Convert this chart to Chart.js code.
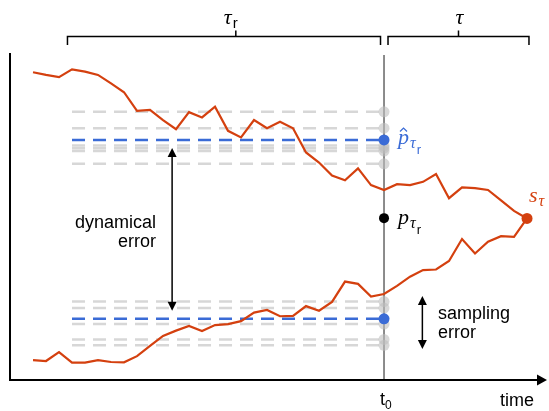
<!DOCTYPE html>
<html>
<head>
<meta charset="utf-8">
<script src="https://cdn.jsdelivr.net/npm/chart.js@4/dist/chart.umd.min.js"></script>
<style>
    html, body { margin: 0; padding: 0; background: #fff; overflow: hidden; }
    #wrap { width: 549px; height: 411px; }
    #diagram { display: block; }
</style>
</head>
<body>
<div id="wrap"><canvas id="diagram"></canvas></div>
<script>
// time steps 0..38, t0 is step 27, s_tau is the last step
const steps = Array.from({ length: 39 }, (_, i) => i);
const T0 = 27;
const SAMPLE_START = 3;

// two trajectories that meet at s_tau
const upperPath = [94.1, 93.3, 92.6, 95.0, 94.3, 93.3, 90.7, 88.0, 82.3, 82.6,
    79.5, 76.7, 81.9, 80.3, 83.6, 76.2, 74.2, 79.5, 77.0, 79.0,
    77.0, 69.6, 66.5, 62.5, 61.1, 64.7, 59.6, 58.1, 59.9, 59.6,
    60.6, 63.0, 55.6, 58.9, 58.7, 58.1, 54.9, 51.7, 49.4];
const lowerPath = [6.1, 5.8, 8.5, 5.3, 5.3, 6.1, 5.5, 5.4, 7.3, 10.4,
    13.5, 15.1, 16.5, 15.0, 16.8, 17.1, 18.0, 20.6, 21.4, 19.5,
    19.6, 22.6, 21.2, 23.9, 30.1, 29.4, 25.5, 26.3, 28.8, 31.6,
    33.6, 33.8, 36.4, 43.1, 38.7, 42.3, 44.0, 43.8, 49.4];

// sampled estimates over tau_r and their means
const upperSamples = [82.0, 77.0, 71.7, 70.9, 70.0, 66.1];
const upperMean = 73.4;
const lowerSamples = [24.0, 22.0, 17.1, 12.4, 10.6];
const lowerMean = 18.7;
const presentValue = 49.5;

const RED = '#d4400f';
const BLUE = '#3a6bd6';
const GREY = 'rgba(205, 205, 205, 0.8)';

function flatLine(v, color, order) {
    return {
        data: [{ x: SAMPLE_START, y: v }, { x: T0, y: v }],
        borderColor: color,
        borderWidth: 2.5,
        borderDash: [13, 8],
        pointRadius: 0,
        order: order
    };
}

const datasets = [];
upperSamples.concat(lowerSamples).forEach(v => datasets.push(flatLine(v, GREY, 20)));
datasets.push(flatLine(upperMean, BLUE, 15));
datasets.push(flatLine(lowerMean, BLUE, 15));
[upperPath, lowerPath].forEach(path => {
    datasets.push({
        data: steps.map(i => ({ x: i, y: path[i] })),
        borderColor: RED,
        borderWidth: 2.2,
        pointRadius: 0,
        order: 10
    });
});
// dots at t0 and at s_tau
datasets.push({
    data: upperSamples.concat(lowerSamples).map(v => ({ x: T0, y: v })),
    showLine: false,
    pointRadius: 5.5,
    pointBorderWidth: 0,
    pointBackgroundColor: 'rgba(190, 190, 190, 0.6)',
    order: 5
});
datasets.push({
    data: [{ x: T0, y: upperMean }, { x: T0, y: lowerMean }],
    showLine: false,
    pointRadius: 5.5,
    pointBorderWidth: 0,
    pointBackgroundColor: BLUE,
    order: 2
});
datasets.push({
    data: [{ x: T0, y: presentValue }],
    showLine: false,
    pointRadius: 5,
    pointBorderWidth: 0,
    pointBackgroundColor: '#000',
    order: 2
});
datasets.push({
    data: [{ x: steps[steps.length - 1], y: upperPath[upperPath.length - 1] }],
    showLine: false,
    pointRadius: 5.5,
    pointBorderWidth: 0,
    pointBackgroundColor: RED,
    order: 2
});

function arrowHead(ctx, x, y, dir) {
    ctx.beginPath();
    ctx.moveTo(x, y);
    ctx.lineTo(x - 4.5, y - dir * 9);
    ctx.lineTo(x + 4.5, y - dir * 9);
    ctx.closePath();
    ctx.fill();
}

function vArrow(ctx, x, y1, y2) {
    ctx.strokeStyle = '#000';
    ctx.fillStyle = '#000';
    ctx.lineWidth = 1.5;
    ctx.beginPath();
    ctx.moveTo(x, y1 + 6);
    ctx.lineTo(x, y2 - 6);
    ctx.stroke();
    arrowHead(ctx, x, y1, -1);
    arrowHead(ctx, x, y2, 1);
}

function brace(ctx, x1, x2, tick, y) {
    ctx.strokeStyle = '#000';
    ctx.lineWidth = 1.5;
    ctx.beginPath();
    ctx.moveTo(x1, y + 8.5);
    ctx.lineTo(x1, y);
    ctx.lineTo(x2, y);
    ctx.lineTo(x2, y + 8.5);
    ctx.moveTo(tick, y);
    ctx.lineTo(tick, y - 6);
    ctx.stroke();
}

// math label: list of [text, font, dy] pieces written left to right
function mathLabel(ctx, x, y, pieces, color) {
    ctx.fillStyle = color;
    ctx.textAlign = 'left';
    let cx = x;
    pieces.forEach(([txt, font, dy]) => {
        ctx.font = font;
        ctx.fillText(txt, cx, y + dy);
        cx += ctx.measureText(txt).width + 1;
    });
}

const MAIN = 'italic 22px "Liberation Serif"';
const SUB = 'italic 16px "Liberation Serif"';
const SUBSUB = '13px "Liberation Sans"';

const sketch = {
    id: 'sketch',
    beforeDatasetsDraw(chart) {
        const { ctx, chartArea: a, scales: { x } } = chart;
        const t0 = x.getPixelForValue(T0);
        ctx.save();
        ctx.strokeStyle = '#666';
        ctx.lineWidth = 1.5;
        ctx.beginPath();
        ctx.moveTo(t0, a.top + 2);
        ctx.lineTo(t0, a.bottom);
        ctx.stroke();
        ctx.restore();
    },
    afterDatasetsDraw(chart) {
        const { ctx, chartArea: a, scales: { x, y } } = chart;
        const t0 = x.getPixelForValue(T0);
        ctx.save();

        // axes
        ctx.strokeStyle = '#000';
        ctx.fillStyle = '#000';
        ctx.lineWidth = 2;
        ctx.beginPath();
        ctx.moveTo(a.left, a.top);
        ctx.lineTo(a.left, a.bottom);
        ctx.lineTo(a.right - 8, a.bottom);
        ctx.stroke();
        ctx.beginPath();
        ctx.moveTo(a.right + 1, a.bottom);
        ctx.lineTo(a.right - 9, a.bottom - 5.5);
        ctx.lineTo(a.right - 9, a.bottom + 5.5);
        ctx.closePath();
        ctx.fill();

        // braces for tau_r and tau
        const braceY = 36.5;
        const rLeft = x.getPixelForValue(2.65), tRight = x.getPixelForValue(38.15);
        const rTick = x.getPixelForValue(15.6);
        brace(ctx, rLeft, t0 - 3.5, rTick, braceY);
        brace(ctx, t0 + 4, tRight, (t0 + 4 + tRight) / 2, braceY);
        mathLabel(ctx, rTick - 12, 24, [['\u03C4', MAIN, 0], ['r', '15px "Liberation Sans"', 4]], '#000');
        ctx.font = MAIN;
        ctx.textAlign = 'center';
        ctx.fillText('\u03C4', (t0 + 4 + tRight) / 2 + 1, 24);

        // error arrows
        vArrow(ctx, x.getPixelForValue(10.7), y.getPixelForValue(upperMean) + 8, y.getPixelForValue(lowerMean) - 8);
        vArrow(ctx, x.getPixelForValue(29.95), y.getPixelForValue(25.7), y.getPixelForValue(9.5));

        ctx.fillStyle = '#000';
        ctx.font = '18px "Liberation Sans"';
        ctx.textAlign = 'right';
        ctx.fillText('dynamical', 156, 228);
        ctx.fillText('error', 156, 247);
        ctx.textAlign = 'left';
        ctx.fillText('sampling', 438, 319);
        ctx.fillText('error', 438, 338);

        // time axis labels
        ctx.fillText('t', t0 - 4, 405);
        ctx.font = '12px "Liberation Sans"';
        ctx.fillText('0', t0 + 1, 409);
        ctx.font = '18px "Liberation Sans"';
        ctx.textAlign = 'center';
        ctx.fillText('time', 517, 406);

        // estimate, present value and future state
        const pHat = y.getPixelForValue(upperMean);
        const pieces = [['p', MAIN, 0], ['\u03C4', SUB, 4], ['r', SUBSUB, 10]];
        mathLabel(ctx, t0 + 14, pHat + 4, pieces, BLUE);
        ctx.strokeStyle = BLUE;
        ctx.lineWidth = 1.2;
        ctx.beginPath();
        ctx.moveTo(t0 + 16, pHat - 8.5);
        ctx.lineTo(t0 + 19.5, pHat - 12);
        ctx.lineTo(t0 + 23, pHat - 8.5);
        ctx.stroke();
        mathLabel(ctx, t0 + 14, y.getPixelForValue(presentValue) + 6, pieces, '#000');
        const sx = x.getPixelForValue(steps[steps.length - 1]);
        const sy = y.getPixelForValue(upperPath[upperPath.length - 1]);
        mathLabel(ctx, sx + 2, sy - 16, [['s', MAIN, 0], ['\u03C4', SUB, 4]], RED);

        ctx.restore();
    }
};

new Chart(document.getElementById('diagram'), {
    type: 'line',
    data: { datasets: datasets },
    options: {
        responsive: true,
        maintainAspectRatio: false,
        animation: false,
        layout: { autoPadding: false, padding: { left: 10, top: 53, right: 3, bottom: 31 } },
        plugins: { legend: { display: false }, tooltip: { enabled: false } },
        elements: { line: { tension: 0, fill: false } },
        scales: {
            x: { type: 'linear', display: false, min: -1.77, max: 39.46 },
            y: { display: false, min: 0, max: 100 }
        }
    },
    plugins: [sketch]
});
</script>
</body>
</html>
